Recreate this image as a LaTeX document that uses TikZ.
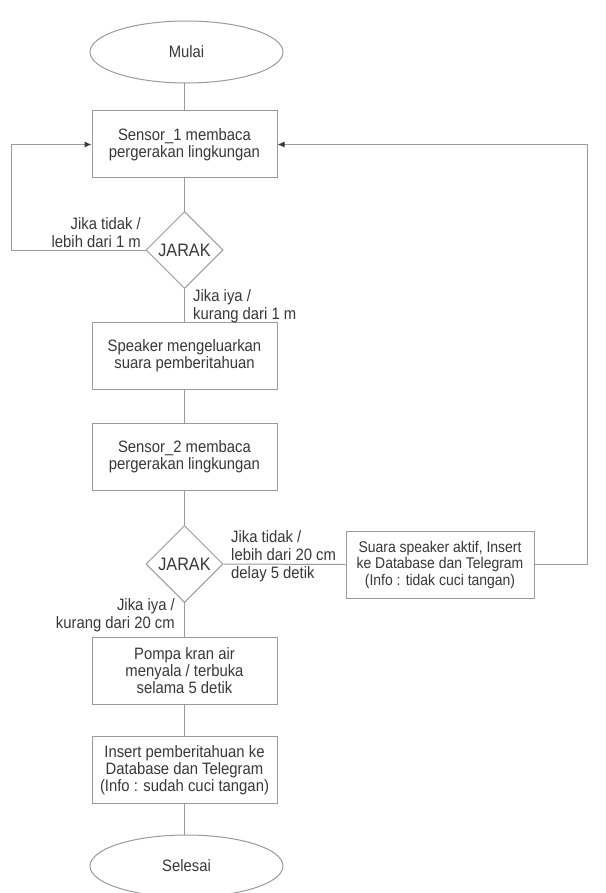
\documentclass[tikz,border=0pt]{standalone}
\usepackage{fontspec}
\setmainfont[FakeStretch=0.9]{Liberation Sans}
\usetikzlibrary{shapes.geometric,arrows.meta}
\definecolor{ln}{HTML}{9A9A9A}
\definecolor{tx}{HTML}{383838}
\begin{document}
\begin{tikzpicture}[x=1pt,y=-1pt,
  proc/.style={draw=ln, line width=1pt, minimum width=185pt, minimum height=67pt,
    inner sep=0pt, align=center, text=tx, font=\fontsize{16.5}{17}\selectfont},
  term/.style={ellipse, draw=ln, line width=1pt, minimum width=193pt, minimum height=62pt,
    inner sep=0pt, text=tx, font=\fontsize{16.5}{17}\selectfont},
  dec/.style={diamond, draw=ln, line width=1pt, minimum width=77pt, minimum height=77pt,
    inner sep=0pt, text=tx, font=\fontsize{18}{19}\selectfont},
  lbl/.style={inner sep=0pt, text=tx, font=\fontsize{16.5}{18}\selectfont},
  conn/.style={draw=ln, line width=1pt},
  arr/.style={conn, -{Latex[length=7pt,width=6pt,color=tx]}}]
\useasboundingbox (0,0) rectangle (605,893);
\fill[white] (0,0) rectangle (605,893);
\clip (0,0) rectangle (605,893);

\node[term] (start) at (186.5,52) {Mulai};
\node[proc] (s1) at (184.5,144.5) {Sensor\_1 membaca\\pergerakan lingkungan};
\node[dec] (d1) at (184.5,250) {JARAK};
\node[proc] (spk) at (184.5,356) {Speaker mengeluarkan\\suara pemberitahuan};
\node[proc] (s2) at (184.5,457) {Sensor\_2 membaca\\pergerakan lingkungan};
\node[dec] (d2) at (184.5,564) {JARAK};
\node[proc, minimum width=188pt, font=\fontsize{15.5}{16.5}\selectfont] (ins1) at (440,564.5)
  {Suara speaker aktif, Insert\\ke Database dan Telegram\\(Info : tidak cuci tangan)};
\node[proc] (pump) at (184.5,671) {Pompa kran air\\menyala / terbuka\\selama 5 detik};
\node[proc] (ins2) at (184.5,770) {Insert pemberitahuan ke\\Database dan Telegram\\(Info : sudah cuci tangan)};
\node[term] (end) at (186.5,866) {Selesai};

\draw[conn] (start.south -| s1.north) -- (s1.north);
\draw[conn] (s1) -- (d1);
\draw[conn] (d1) -- (spk);
\draw[conn] (spk) -- (s2);
\draw[conn] (s2) -- (d2);
\draw[conn] (d2) -- (pump);
\draw[conn] (pump) -- (ins2);
\draw[conn] (ins2.south) -- (ins2.south |- end.north);

\coordinate (lc) at (11,250);
\draw[arr] (d1.west) -- (lc) |- (s1.west);
\draw[conn] (d2.east) -- (ins1.west);
\coordinate (rc) at (587,564.5);
\draw[arr] (ins1.east) -- (rc) |- (s1.east);

\node[lbl, anchor=east, align=right] (l1) at (141,233) {Jika tidak /\\lebih dari 1 m};
\node[lbl, anchor=west, align=left] (l2) at (193,306) {Jika iya /\\kurang dari 1 m};
\node[lbl, anchor=west, align=left] (l3) at (231,556) {Jika tidak /\\lebih dari 20 cm\\delay 5 detik};
\node[lbl, anchor=east, align=right] (l4) at (175,615) {Jika iya /\\kurang dari 20 cm};
\end{tikzpicture}
\end{document}
